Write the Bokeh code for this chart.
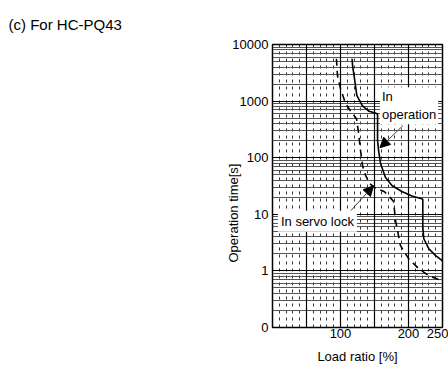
import math
from bokeh.plotting import figure
from bokeh.models import (Range1d, FixedTicker, Label, Arrow, NormalHead, Grid, Title)
from bokeh.embed import file_html
from bokeh.resources import INLINE

# ---- data ----
title_text = "(c) For HC-PQ43"
x_label = "Load ratio [%]"
y_label = "Operation time[s]"

x_ticks = [100, 200, 250]
x_grid_major = [0, 50, 100, 150, 200, 250]
x_grid_minor = [10, 20, 30, 40, 60, 70, 80, 90, 110, 120, 130, 140, 160, 170, 180, 190, 210, 220, 230, 240]
y_ticks = [0.1, 1, 10, 100, 1000, 10000]
y_tick_labels = {0.1: "0", 1: "1", 10: "10", 100: "100", 1000: "1000", 10000: "10000"}

# In operation (solid)
load_op = [117, 118, 120, 124, 132, 142, 151, 154.5, 154.5, 156, 159, 166, 176, 191, 205, 218, 221, 221, 222.5, 230, 240, 250]
time_op = [5600, 4000, 2800, 1260, 830, 660, 615, 590, 200, 135, 78, 45, 32, 25, 21, 19, 18.5, 6.0, 3.7, 2.45, 1.86, 1.5]

# In servo lock (dashed)
load_sl = [94, 95.6, 100, 107.4, 116.2, 123.5, 126.5, 129.4, 132.4, 136.8, 142.6, 151.5, 164.7, 178, 180.9, 188.2, 200, 214.7, 229.4, 247]
time_sl = [5600, 2800, 1660, 910, 630, 490, 280, 135, 72, 49, 35, 29, 25, 17, 7.8, 2.8, 1.66, 1.1, 0.83, 0.68]

FONT = "Liberation Sans"

p = figure(width=448, height=367, x_axis_type="linear", y_axis_type="log",
           x_range=Range1d(0, 250), y_range=Range1d(0.1, 10000),
           output_backend="svg", toolbar_location=None,
           min_border_left=272, min_border_right=6, min_border_top=44, min_border_bottom=40)
p.background_fill_color = "white"
p.border_fill_color = "white"
p.outline_line_color = "black"
p.outline_line_width = 1.5

# axes
p.xaxis.ticker = FixedTicker(ticks=x_ticks)
p.yaxis.ticker = FixedTicker(ticks=y_ticks)
p.yaxis.major_label_overrides = y_tick_labels
for ax in (p.xaxis[0], p.yaxis[0]):
    ax.axis_line_color = None
    ax.major_tick_line_color = None
    ax.minor_tick_line_color = None
    ax.major_tick_out = 0
    ax.minor_tick_out = 0
    ax.major_tick_in = 0
    ax.minor_tick_in = 0
    ax.major_label_text_font = FONT
    ax.major_label_text_font_size = "13px"
    ax.major_label_text_color = "black"
    ax.axis_label_text_font = FONT
    ax.axis_label_text_font_size = "13px"
    ax.axis_label_text_font_style = "normal"
    ax.axis_label_text_color = "black"
p.xaxis.major_label_standoff = 1
p.yaxis.major_label_standoff = 4
p.xaxis.axis_label = x_label
p.xaxis.axis_label_standoff = 8

# title (top-left) and y label (shifted down like the reference)
p.add_layout(Title(text=title_text, align="left", offset=-264, standoff=24,
                   text_font=FONT, text_font_size="15px", text_font_style="normal",
                   text_color="black"), "above")
p.add_layout(Title(text=y_label, align="left", offset=65, standoff=-22,
                   text_font=FONT, text_font_size="13px", text_font_style="normal",
                   text_color="black"), "left")

# grids
p.xgrid.visible = False
p.ygrid.visible = False
gx_minor = Grid(dimension=0, ticker=FixedTicker(ticks=x_grid_minor),
                grid_line_color="#333333", grid_line_width=1, grid_line_dash="3 4")
gy = Grid(dimension=1, ticker=FixedTicker(ticks=y_ticks,
          minor_ticks=[m * 10.0 ** e for e in range(-1, 4) for m in range(2, 10)]),
          grid_line_color="black", grid_line_width=1.2,
          minor_grid_line_color="#555555", minor_grid_line_width=1)
gx = Grid(dimension=0, ticker=FixedTicker(ticks=x_grid_major),
          grid_line_color="black", grid_line_width=1.2)
p.add_layout(gx_minor)
p.add_layout(gy)
p.add_layout(gx)

# curves
p.line(load_op, time_op, line_color="black", line_width=1.6)
p.line(load_sl, time_sl, line_color="black", line_width=1.6, line_dash="7 5")

# annotations
p.add_layout(Arrow(end=NormalHead(size=10, fill_color="black", line_color="black"),
                   x_start=192, y_start=370, x_end=158, y_end=150,
                   line_color="#444444", line_width=1))
p.add_layout(Arrow(end=NormalHead(size=10, fill_color="black", line_color="black"),
                   x_start=115, y_start=11.5, x_end=148.5, y_end=32,
                   line_color="#444444", line_width=1))

lab_kw = dict(text_font=FONT, text_font_size="13px", text_color="black",
              background_fill_color="white", background_fill_alpha=1.0)
p.add_layout(Label(x=158, y=390, text="In\noperation", text_baseline="bottom",
                   text_align="left", padding=2, **lab_kw))
p.add_layout(Label(x=8, y=7.5, text="In servo lock", text_baseline="middle",
                   text_align="left", padding=3, **lab_kw))

open("out.html", "w").write(file_html(p, INLINE))
